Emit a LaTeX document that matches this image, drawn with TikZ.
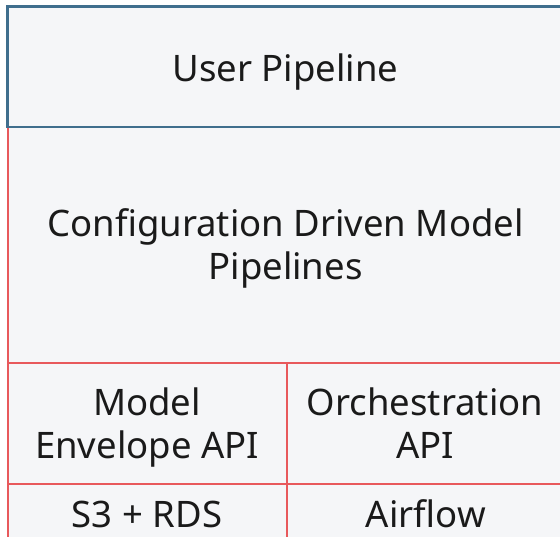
\documentclass[tikz,border=0pt]{standalone}
\usepackage{fontspec}
\setmainfont{Noto Sans}
\definecolor{panelfill}{HTML}{F5F6F8}
\definecolor{topline}{HTML}{3F6E8D}
\definecolor{layerline}{HTML}{E8595C}
\definecolor{labeltext}{HTML}{1A1A1A}
\begin{document}
\begin{tikzpicture}[x=1pt,y=1pt,
  layer/.style={draw=layerline, line width=2pt, fill=panelfill, rectangle,
    inner sep=0pt, outer sep=0pt},
  toplayer/.style={layer, draw=topline, line width=2.4pt},
  caption/.style={inner sep=0pt, anchor=base, align=center, text=labeltext,
    font=\fontsize{36.5}{43}\selectfont}]
\useasboundingbox (0,0) rectangle (560,537);
\fill[white] (0,0) rectangle (560,537);
\begin{scope}
\clip (0,0) rectangle (560,537);
% stack of layers, bottom row first
\node[layer, minimum width=279pt, minimum height=54pt, anchor=north west] (s3) at (7.5,52.5) {};
\node[layer, minimum width=277pt, minimum height=54pt, anchor=north west] (airflow) at (286.5,52.5) {};
\node[layer, minimum width=279pt, minimum height=121.5pt, anchor=south west] (envelope) at (7.5,52.5) {};
\node[layer, minimum width=277pt, minimum height=121.5pt, anchor=south west] (orch) at (286.5,52.5) {};
\node[layer, minimum width=556pt, minimum height=236pt, anchor=south west] (config) at (7.5,174) {};
\node[toplayer, minimum width=556pt, minimum height=120.5pt, anchor=south west] (user) at (7.5,410) {};
\end{scope}
% labels, placed by the baseline of their last line
\node[caption] (userlabel) at ([yshift=-15pt]user.center) {User Pipeline};
\node[caption] (configlabel) at ([yshift=-34.5pt]config.center) {Configuration Driven Model\\Pipelines};
\node[caption] (envlabel) at ([yshift=-34.5pt]envelope.center) {Model\\Envelope API};
\node[caption] (orchlabel) at ([yshift=-34.5pt]orch.center) {Orchestration\\API};
\node[caption] (s3label) at (147,9) {S3 + RDS};
\node[caption] (airflowlabel) at (425.75,9) {Airflow};
\end{tikzpicture}
\end{document}
